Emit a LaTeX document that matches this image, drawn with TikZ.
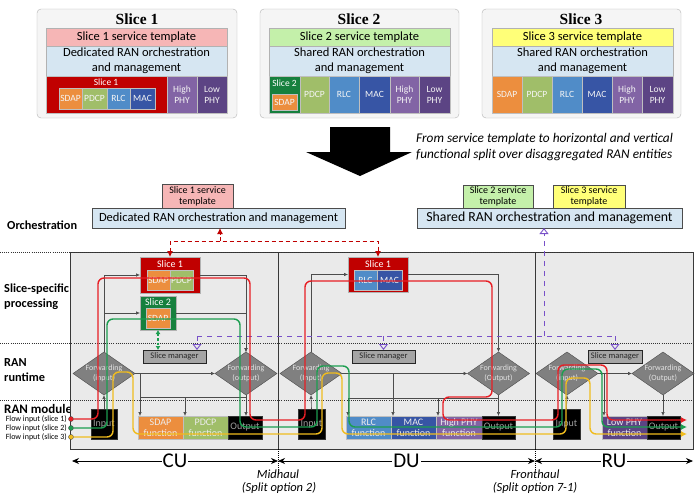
\documentclass[tikz,border=0pt]{standalone}
\usepackage{fontspec}
\setmainfont{Carlito}
\newfontfamily\titlefont{Liberation Serif}
\usetikzlibrary{shapes.geometric,arrows.meta}
\definecolor{cPink}{RGB}{246,182,182}
\definecolor{cLGreen}{RGB}{196,240,170}
\definecolor{cYellow}{RGB}{255,255,120}
\definecolor{cLBlue}{RGB}{214,230,242}
\definecolor{cDRed}{RGB}{192,0,0}
\definecolor{cDGreen}{RGB}{22,128,62}
\definecolor{cSDAP}{RGB}{236,142,62}
\definecolor{cPDCP}{RGB}{160,190,105}
\definecolor{cRLC}{RGB}{80,140,200}
\definecolor{cMAC}{RGB}{55,85,165}
\definecolor{cHPHY}{RGB}{130,100,165}
\definecolor{cLPHY}{RGB}{92,68,132}
\definecolor{cFlowR}{RGB}{232,30,36}
\definecolor{cFlowG}{RGB}{28,158,80}
\definecolor{cFlowY}{RGB}{240,188,30}
\definecolor{cPurple}{RGB}{120,80,200}
\definecolor{cPanel}{RGB}{234,234,234}
\definecolor{cDiam}{RGB}{128,128,128}
\definecolor{cSM}{RGB}{165,165,165}
\newcommand\bx[7]{\node[#6,minimum width={(#4)-(#2)},minimum height={(#5)-(#3)}] (#1) at ({((#2)+(#4))/2},{((#3)+(#5))/2}) {#7};}
\tikzset{
  base/.style={inner sep=0pt, outer sep=0pt, align=center, font=\fontsize{9.5}{11}\selectfont, text=white},
  outer/.style={base, draw=gray!60, fill=gray!8, rounded corners=4pt},
  titlet/.style={font=\titlefont\bfseries\fontsize{15.5}{17}\selectfont, inner sep=0pt},
  band/.style={base, draw=gray!60, fill=#1, text=black, font=\fontsize{12.5}{15}\selectfont},
  cell/.style={base, draw=gray!50, fill=#1, text=white!92!gray},
  lbl/.style={font=\fontsize{9.5}{10}\selectfont, text=white, inner sep=0pt},
  slbl/.style={font=\fontsize{10}{11}\selectfont, text=white, inner sep=0pt},
  sbox/.style={base, draw=gray!60, fill=#1},
  tpl/.style={base, draw=gray!60!black, fill=#1, text=black, font=\fontsize{10}{11.3}\selectfont},
  orch/.style={base, draw=gray!60!black, fill=cLBlue, text=black, font=\fontsize{12.5}{14}\selectfont},
  side/.style={anchor=west, font=\bfseries\fontsize{12.3}{15}\selectfont, align=left, inner sep=0pt},
  flowl/.style={anchor=east, font=\fontsize{8}{9}\selectfont, inner sep=0pt},
  dot/.style={circle, draw=black!70, fill=#1, minimum size=5pt, inner sep=0pt},
  panel/.style={base, draw=gray!45!black, fill=cPanel},
  dotline/.style={draw=black!80, line width=0.8pt, dash pattern=on 0.8pt off 1.3pt},
  sm/.style={base, draw=gray!30!black, fill=cSM, text=black!85, font=\fontsize{8.5}{9}\selectfont},
  diam/.style={diamond, draw=gray!60!black, fill=cDiam, minimum width=62pt, minimum height=43pt, inner sep=0pt, outer sep=0pt},
  dtext/.style={font=\fontsize{8}{9.5}\selectfont, text=gray!22, align=center, inner sep=0pt},
  blk/.style={base, draw=gray!40!black, fill=black, text=gray!75, font=\fontsize{10}{11}\selectfont},
  fn/.style={base, draw=gray!50, fill=#1, text=white!85!gray, font=\fontsize{10}{11}\selectfont},
  ctrlline/.style={draw=black!70, line width=0.6pt},
  ctrl/.style={ctrlline, -{Latex[length=4pt,width=3.5pt]}},
  flow/.style={line width=1.4pt, rounded corners=6pt, -{Latex[length=6pt,width=6pt]}},
  pdash/.style={draw=cPurple, dash pattern=on 5pt off 5pt, line width=0.9pt},
  ptri/.style={pdash, -{Triangle[open,length=6pt,width=9pt]}},
  rdash/.style={draw=cDRed, dash pattern=on 4pt off 3pt, line width=1pt},
  gdash/.style={draw=cFlowG, dash pattern=on 2.5pt off 2pt, line width=1.2pt, {Latex[length=4pt,width=5pt]}-{Latex[length=4pt,width=5pt]}},
  dim/.style={line width=0.8pt, {Stealth[length=7pt,width=6pt]}-{Stealth[length=7pt,width=6pt]}},
  dimlbl/.style={fill=white, font=\fontsize{21}{21}\selectfont, inner sep=1pt},
  hl/.style={font=\itshape\fontsize{12.5}{14}\selectfont, inner sep=0pt},
  tick/.style={draw=black, line width=0.6pt, dash pattern=on 1pt off 1pt}
}
\begin{document}
\begin{tikzpicture}[x=1pt,y=-1pt]
\useasboundingbox (0,0) rectangle (699,498);
% ---------- top slices ----------
\bx{t1}{37}{9}{237}{118}{outer}{}
\node[titlet] (t1t) at (137,19) {Slice 1};
\bx{t1a}{46}{28}{227}{46}{band=cPink}{Slice 1 service template}
\bx{t1b}{46}{46}{227}{76}{band=cLBlue}{Dedicated RAN orchestration\\and management}
\bx{t1c}{46}{76}{167}{113}{cell=cDRed}{}
\node[lbl] (t1cl) at (106,82) {Slice 1};
\bx{t1s}{59}{88}{82}{109}{cell=cSDAP}{SDAP}
\bx{t1p}{82}{88}{107}{109}{cell=cPDCP}{PDCP}
\bx{t1r}{107}{88}{130}{109}{cell=cRLC}{RLC}
\bx{t1m}{130}{88}{155}{109}{cell=cMAC}{MAC}
\bx{t1h}{167}{76}{197}{113}{cell=cHPHY}{High\\PHY}
\bx{t1l}{197}{76}{227}{113}{cell=cLPHY}{Low\\PHY}

\bx{t2}{260}{9}{459}{118}{outer}{}
\node[titlet] (t2t) at (359,19) {Slice 2};
\bx{t2a}{269}{28}{450}{46}{band=cLGreen}{Slice 2 service template}
\bx{t2b}{269}{46}{450}{76}{band=cLBlue}{Shared RAN orchestration\\and management}
\bx{t2c}{269}{76}{300}{113}{cell=cDGreen}{}
\node[lbl] (t2cl) at (284.5,83) {Slice 2};
\bx{t2s}{272}{94}{297}{110}{cell=cSDAP}{SDAP}
\bx{t2p}{300}{76}{329}{113}{cell=cPDCP}{PDCP}
\bx{t2r}{329}{76}{359}{113}{cell=cRLC}{RLC}
\bx{t2m}{359}{76}{390}{113}{cell=cMAC}{MAC}
\bx{t2h}{390}{76}{419}{113}{cell=cHPHY}{High\\PHY}
\bx{t2l}{419}{76}{450}{113}{cell=cLPHY}{Low\\PHY}

\bx{t3}{482}{9}{681}{118}{outer}{}
\node[titlet] (t3t) at (581,19) {Slice 3};
\bx{t3a}{492}{28}{673}{46}{band=cYellow}{Slice 3 service template}
\bx{t3b}{492}{46}{673}{76}{band=cLBlue}{Shared RAN orchestration\\and management}
\bx{t3s}{492}{76}{522}{113}{cell=cSDAP}{SDAP}
\bx{t3p}{522}{76}{552}{113}{cell=cPDCP}{PDCP}
\bx{t3r}{552}{76}{582}{113}{cell=cRLC}{RLC}
\bx{t3m}{582}{76}{612}{113}{cell=cMAC}{MAC}
\bx{t3h}{612}{76}{642}{113}{cell=cHPHY}{High\\PHY}
\bx{t3l}{642}{76}{673}{113}{cell=cLPHY}{Low\\PHY}

% big arrow
\fill[black] (330,127) -- (390,127) -- (390,152) -- (412,152) -- (360,176) -- (306,152) -- (330,152) -- cycle;
\node[anchor=west, font=\itshape\fontsize{13.3}{16}\selectfont, align=left, inner sep=0pt] (note) at (416,147) {From service template to horizontal and vertical\\functional split over disaggregated RAN entities};

% ---------- orchestration ----------
\bx{tpl1}{162}{184}{233}{208}{tpl=cPink}{Slice 1 service\\template}
\bx{ded}{92}{208}{345}{228}{orch}{Dedicated RAN orchestration and management}
\bx{tpl2}{463}{185}{533}{208}{tpl=cLGreen}{Slice 2 service\\template}
\bx{tpl3}{553}{185}{625}{208}{tpl=cYellow}{Slice 3 service\\template}
\bx{shr}{417}{208}{682}{228}{orch, font=\fontsize{13.8}{15}\selectfont}{Shared RAN orchestration and management}

% ---------- left labels ----------
\node[side] (lorch) at (7,225) {Orchestration};
\node[side] (lssp) at (4,297) {Slice-specific\\processing};
\node[side] (lrun) at (4,370) {RAN\\runtime};
\node[side, font=\bfseries\fontsize{13}{15}\selectfont] (lmod) at (4,409) {RAN module};
\node[flowl] (fl1) at (67,419) {Flow input (slice 1)};
\node[flowl] (fl2) at (67,428) {Flow input (slice 2)};
\node[flowl] (fl3) at (67,437) {Flow input (slice 3)};

% ---------- panels ----------
\bx{pcu}{70}{252}{278}{449}{panel}{}
\bx{pdu}{278}{252}{535}{449}{panel}{}
\bx{pru}{535}{252}{693}{449}{panel}{}
\draw[dotline] (0,252) -- (693,252);
\draw[dotline] (0,343) -- (693,343);
\draw[dotline] (0,400) -- (693,400);

\node[dot=cFlowR] (d1) at (71,419) {};
\node[dot=cFlowG] (d2) at (71,428) {};
\node[dot=cFlowY] (d3) at (71,437) {};

% ---------- CU ----------
\bx{s1cu}{140}{257}{200}{293}{sbox=cDRed}{}
\node[slbl] (s1cul) at (170,264) {Slice 1};
\bx{s1cus}{147}{270}{170}{290}{cell=cSDAP}{SDAP}
\bx{s1cup}{170}{270}{193}{290}{cell=cPDCP}{PDCP}
\bx{s2cu}{140}{296}{176}{330}{sbox=cDGreen}{}
\node[slbl] (s2cul) at (158,302.5) {Slice 2};
\bx{s2cus}{146}{308}{170}{328}{cell=cSDAP}{SDAP}
\bx{smcu}{143}{350}{206}{363}{sm}{Slice manager}
\node[diam] (ficu) at (104,373.5) {};
\node[dtext] (ficut) at (ficu) {Forwarding\\(input)};
\node[diam] (focu) at (246,373.5) {};
\node[dtext] (focut) at (focu) {Forwarding\\(output)};
\bx{incu}{91}{409}{117}{439}{blk}{Input}
\bx{fsdap}{138}{416}{183}{439}{fn=cSDAP}{SDAP\\function}
\bx{fpdcp}{183}{416}{228}{439}{fn=cPDCP}{PDCP\\function}
\bx{outcu}{228}{416}{262}{439}{blk}{Output}

% ---------- DU ----------
\bx{s1du}{348}{257}{408}{292}{sbox=cDRed}{}
\node[slbl] (s1dul) at (378,264) {Slice 1};
\bx{s1dur}{354}{270}{377}{290}{cell=cRLC}{RLC}
\bx{s1dum}{377}{270}{402}{290}{cell=cMAC}{MAC}
\bx{smdu}{352}{350}{415}{363}{sm}{Slice manager}
\node[diam] (fidu) at (311,373.5) {};
\node[dtext] (fidut) at (fidu) {Forwarding\\(Input)};
\node[diam] (fodu) at (498.5,373.5) {};
\node[dtext] (fodut) at (fodu) {Forwarding\\(Output)};
\bx{indu}{298}{409}{325}{439}{blk}{Input}
\bx{frlc}{346}{416}{391}{439}{fn=cRLC}{RLC\\function}
\bx{fmac}{391}{416}{436}{439}{fn=cMAC}{MAC\\function}
\bx{fhphy}{436}{416}{482}{439}{fn=cHPHY}{High PHY\\function}
\bx{outdu}{482}{416}{515}{439}{blk}{Output}

% ---------- RU ----------
\bx{smru}{588}{350}{642}{363}{sm}{Slice manager}
\node[diam] (firu) at (567,373.5) {};
\node[dtext] (firut) at (firu) {Forwarding\\(input)};
\node[diam] (foru) at (663,373.5) {};
\node[dtext] (forut) at (foru) {Forwarding\\(Output)};
\bx{inru}{553}{409}{580}{439}{blk}{Input}
\bx{flphy}{602}{416}{647}{439}{fn=cLPHY}{Low PHY\\function}
\bx{outru}{647}{416}{680}{439}{blk}{Output}

% ---------- control lines ----------
\draw[ctrl] (ficu.north) |- (s1cu.west);
\draw[ctrl] (ficu.north) |- (s2cu.west);
\draw[ctrl] (s2cu.east) -| (focu.north);
\draw[ctrl] (s1cu.east) -| (focu.north);
\draw[ctrl] (ficu.east) -- (focu.west);
\draw[ctrl] (incu.north) -- (ficu.south);
\coordinate (cva) at (140,373.5);
\coordinate (cbus) at (140,397);
\coordinate (cvb) at (185,397);
\draw[ctrl] (cva) -- (cva |- fsdap.north);
\draw[ctrlline] (cbus) -- (cbus -| focu.south);
\draw[ctrl] (cvb) -- (cvb |- fpdcp.north);
\draw[ctrl] (focu.south) -- (outcu.north -| focu.south);

\draw[ctrl] (fidu.north) |- (s1du.west);
\draw[ctrl] (s1du.east) -| (fodu.north);
\draw[ctrl] (fidu.east) -- (fodu.west);
\draw[ctrl] (indu.north) -- (fidu.south);
\coordinate (dva) at (393,373.5);
\coordinate (dbus) at (348,398);
\coordinate (dvb) at (438,398);
\draw[ctrl] (dva) -- (dva |- fmac.north);
\draw[ctrlline] (dbus) -- (dbus -| fodu.south);
\draw[ctrl] (dbus) -- (dbus |- frlc.north);
\draw[ctrl] (dvb) -- (dvb |- fhphy.north);
\draw[ctrl] (fodu.south) -- (outdu.north -| fodu.south);

\draw[ctrl] (firu.east) -- (foru.west);
\draw[ctrl] (inru.north) -- (firu.south);
\coordinate (rva) at (604,373.5);
\draw[ctrl] (rva) -- (rva |- flphy.north);
\draw[ctrl] (foru.south) -- (outru.north -| foru.south);

% ---------- purple management links ----------
\coordinate (pa) at (197,336);
\coordinate (pd) at (383.5,336);
\coordinate (pc) at (544,336);
\coordinate (pb) at (615,336);
\draw[pdash] (pa) -- (pb);
\draw[ptri] (pa) -- (pa |- smcu.north);
\draw[ptri] (pd) -- (pd |- smdu.north);
\draw[ptri] (pb) -- (pb |- smru.north);
\draw[ptri] (pc) -- (pc |- shr.south);

% ---------- red dedicated links ----------
\coordinate (rj) at (220,241);
\draw[rdash, {Latex[length=6pt,width=6pt]}-{Latex[length=6pt,width=6pt]}] (s1cu.north) -- (s1cu.north |- rj) -| (s1du.north);
\draw[rdash, -{Latex[length=6pt,width=6pt]}] (rj) -- (rj |- ded.south);
\draw[gdash] (s2cu.south) -- (s2cu.south |- smcu.north);

% ---------- flows ----------
\draw[flow, draw=cFlowY] (d3.east) -- (113,437) -- (113,372) -- (133,372) -- (133,434) -- (322,434) -- (322,373) -- (342,373) -- (342,434) -- (566,434) -- (566,378) -- (590,378) -- (590,434) -- (687,434);
\draw[flow, draw=cFlowG] (d2.east) -- (107,428) -- (107,319) -- (240,319) -- (240,427) -- (317,427) -- (317,366) -- (349,366) -- (349,427) -- (562,427) -- (562,369) -- (602,369) -- (602,427) -- (687,427);
\draw[flow, draw=cFlowR] (d1.east) -- (98,419) -- (98,278) -- (250,278) -- (250,420) -- (305,420) -- (305,281) -- (492,281) -- (492,397) -- (443,397) -- (443,420) -- (558,420) -- (558,365) -- (607,365) -- (607,420) -- (687,420);

% ---------- bottom dimension ----------
\coordinate (bl) at (72,461);
\coordinate (bm) at (278,461);
\coordinate (bf) at (535,461);
\coordinate (br) at (693,461);
\draw[dim] (bl) -- node[dimlbl] (lcu) {CU} (bm);
\draw[dim] (bm) -- node[dimlbl] (ldu) {DU} (bf);
\draw[dim] (bf) -- node[dimlbl] (lru) {RU} (br);
\draw[tick] (278,449) -- (278,470);
\draw[tick] (535,449) -- (535,470);
\node[hl] (mh) at (278,474) {Midhaul};
\node[hl] (mh2) at (279,488) {(Split option 2)};
\node[hl] (fh) at (535,474) {Fronthaul};
\node[hl] (fh2) at (535,488) {(Split option 7-1)};
\end{tikzpicture}
\end{document}
